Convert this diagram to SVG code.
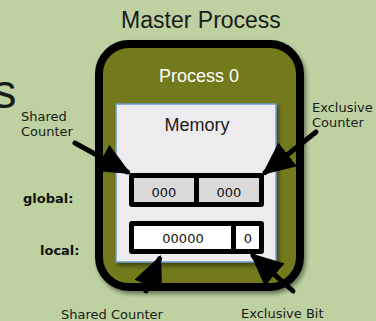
<svg xmlns="http://www.w3.org/2000/svg" width="376" height="321" viewBox="0 0 376 321">
  <defs>
    <style>
      .title { font-family: "Liberation Sans", Arial, sans-serif; fill: #1a1a1a; }
      .white { font-family: "Liberation Sans", Arial, sans-serif; fill: #ffffff; }
      .lbl { font-family: "DejaVu Sans", Verdana, sans-serif; font-size: 13px; fill: #1a1a1a; }
      .bold { font-family: "DejaVu Sans", Verdana, sans-serif; font-size: 13px; font-weight: bold; fill: #111; }
      .num { font-family: "DejaVu Sans", Verdana, sans-serif; font-size: 13px; fill: #111; text-anchor: middle; }
      .arrow { stroke: #000; stroke-width: 5; stroke-linecap: round; fill: none; marker-end: url(#head); }
    </style>
    <marker id="head" markerUnits="userSpaceOnUse" markerWidth="33" markerHeight="30" refX="29" refY="15" orient="auto">
      <path d="M0,0 L33,15 L0,30 z" fill="#000"/>
    </marker>
    <filter id="shadow" x="-10%" y="-10%" width="130%" height="130%">
      <feDropShadow dx="2" dy="3" stdDeviation="2" flood-color="#000" flood-opacity="0.45"/>
    </filter>
  </defs>
  <rect width="376" height="321" fill="#bdd2a0"/>
  <text class="title" x="16.5" y="108" font-size="48" text-anchor="end">s</text>
  <text class="title" x="201" y="28" font-size="23" text-anchor="middle">Master Process</text>

  <g id="master-process">
    <rect x="99" y="44" width="201" height="243" rx="30" fill="#727a1e" stroke="#000" stroke-width="8" filter="url(#shadow)"/>
    <text class="white" x="199" y="82" font-size="18" text-anchor="middle">Process 0</text>
  </g>

  <g id="memory">
    <rect x="116" y="104" width="160" height="158" fill="#edebed" stroke="#6c9bd2" stroke-width="1.5" filter="url(#shadow)"/>
    <text class="title" x="197" y="131" font-size="18" text-anchor="middle">Memory</text>
  </g>

  <g id="global-row">
    <rect x="129" y="173" width="135" height="34" rx="3" fill="#000"/>
    <rect x="134" y="178" width="60" height="24" fill="#d9d9d9"/>
    <rect x="199" y="178" width="60" height="24" fill="#d9d9d9"/>
    <text class="num" x="164" y="197">000</text>
    <text class="num" x="229" y="197">000</text>
  </g>

  <g id="local-row">
    <rect x="129" y="221" width="135" height="33" rx="3" fill="#000"/>
    <rect x="134" y="226" width="97" height="23" fill="#ffffff"/>
    <rect x="236" y="226" width="23" height="23" fill="#ffffff"/>
    <text class="num" x="183" y="243">00000</text>
    <text class="num" x="248" y="243">0</text>
  </g>

  <g id="labels">
    <text class="bold" x="23" y="203">global:</text>
    <text class="bold" x="40" y="255">local:</text>
    <text class="lbl" x="21" y="121">Shared</text>
    <text class="lbl" x="21" y="136">Counter</text>
    <text class="lbl" x="312" y="112">Exclusive</text>
    <text class="lbl" x="312" y="127">Counter</text>
    <text class="lbl" x="61" y="319">Shared Counter</text>
    <text class="lbl" x="241" y="318">Exclusive Bit</text>
  </g>

  <g id="connectors">
    <line class="arrow" x1="75" y1="143" x2="127.5" y2="172"/>
    <line class="arrow" x1="316" y1="132" x2="265" y2="172.5"/>
    <line class="arrow" x1="146" y1="291" x2="159.5" y2="258.7"/>
    <line class="arrow" x1="293" y1="291" x2="253" y2="255.6"/>
  </g>
</svg>
